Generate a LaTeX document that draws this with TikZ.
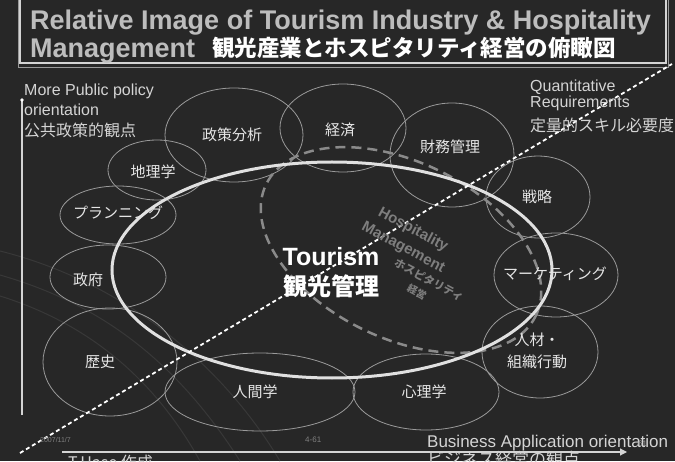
\documentclass[tikz,border=0pt]{standalone}
\usepackage{fontspec}
\setmainfont{Liberation Sans}
\newfontfamily\jp{Noto Sans CJK JP}
\usetikzlibrary{shapes.geometric,arrows.meta}
\definecolor{bgc}{HTML}{272727}
\definecolor{ellc}{HTML}{9A9A9A}
\definecolor{labc}{HTML}{E6E6E6}
\definecolor{titc}{HTML}{BDBDBD}
\definecolor{axc}{HTML}{D4D4D4}
\definecolor{hospc}{HTML}{7E7E7E}
\definecolor{hdash}{HTML}{8A8A8A}
\definecolor{tourc}{HTML}{E0E0E0}
\definecolor{faint}{HTML}{383838}
\begin{document}
\begin{tikzpicture}[x=1pt,y=1pt,
  topic/.style={draw=ellc, line width=0.8pt, ellipse, inner sep=0pt},
  lbl/.style={text=labc, font=\jp\fontsize{15}{18}\selectfont, inner sep=0pt, align=center},
  axlbl/.style={text=axc, font=\fontsize{16}{16}\selectfont, inner sep=0pt, anchor=base west},
  axjp/.style={text=axc, font=\jp\fontsize{16}{16}\selectfont, inner sep=0pt, anchor=west},
  hosptxt/.style={text=hospc, rotate=-28, inner sep=0pt},
  small/.style={text=gray, font=\fontsize{8}{8}\selectfont, inner sep=0pt, anchor=base west}]
\fill[bgc] (0,0) rectangle (675,461);
\useasboundingbox (0,0) rectangle (675,461);
\clip (0,0) rectangle (675,461);
% faint background swooshes
\draw[faint, line width=1pt] (0,186) .. controls (90,160) and (170,110) .. (240,0);
\draw[faint, line width=1pt] (0,165) .. controls (80,140) and (150,90) .. (200,0);
\draw[faint, line width=1pt] (0,210) .. controls (120,180) and (220,100) .. (280,0);
% title box
\draw[ellc, line width=0.8pt] (18,475) rectangle (668,394);
\draw[axc, line width=1.2pt] (20,475) rectangle (666,398);
\node[anchor=base west, text=titc, font=\bfseries\fontsize{27}{27}\selectfont, inner sep=0pt] (t1) at (30,431) {Relative Image of Tourism Industry \& Hospitality};
\node[anchor=base west, text=titc, font=\bfseries\fontsize{27}{27}\selectfont, inner sep=0pt] (t2) at (30,403) {Management};
\node[anchor=base west, text=white, font=\jp\bfseries\fontsize{22.5}{22.5}\selectfont, inner sep=0pt] (t3) at (212,404) {観光産業とホスピタリティ経営の俯瞰図};
% topic ellipses
\node[topic, minimum width=138pt, minimum height=94pt] (e1) at (234,326) {};
\node[topic, minimum width=126pt, minimum height=88pt] (e2) at (343,333) {};
\node[topic, minimum width=124pt, minimum height=104pt] (e3) at (452,306) {};
\node[topic, minimum width=104pt, minimum height=82pt] (e4) at (538,264) {};
\node[topic, minimum width=124pt, minimum height=84pt] (e5) at (556,186) {};
\node[topic, minimum width=116pt, minimum height=92pt] (e6) at (540,109) {};
\node[topic, minimum width=146pt, minimum height=76pt] (e7) at (426,69) {};
\node[topic, minimum width=190pt, minimum height=78pt] (e8) at (260,69) {};
\node[topic, minimum width=134pt, minimum height=108pt] (e9) at (110,99) {};
\node[topic, minimum width=116pt, minimum height=64pt] (e10) at (108,184) {};
\node[topic, minimum width=116pt, minimum height=58pt] (e11) at (118,246) {};
\node[topic, minimum width=98pt, minimum height=60pt] (e12) at (157,291) {};
% hospitality dashed ellipse
\node[draw=hdash, line width=2.5pt, dash pattern=on 10pt off 6pt, ellipse, minimum width=300pt, minimum height=176pt, rotate=-26, inner sep=0pt] (hosp) at (401,211) {};
% tourism ellipse
\node[draw=tourc, line width=3pt, ellipse, minimum width=440pt, minimum height=216pt, inner sep=0pt] (tour) at (332,191) {};
% axes
\coordinate (vtop) at (22,361);
\coordinate (vbot) at (22,46);
\draw[axc, line width=1.3pt] (vbot) -- (vtop);
\fill[white] (vtop) circle (1.8);
\coordinate (hl) at (62,9);
\coordinate (hr) at (627,9);
\draw[axc, line width=1.2pt, -{Triangle[length=7pt,width=7pt]}] (hl) -- (hr);
% diagonal
\coordinate (d1) at (20,8);
\coordinate (d2) at (672,397);
\draw[white, line width=1.8pt, dash pattern=on 4pt off 3pt] (d1) -- (d2);
% labels
\node[lbl] (l1) at (232,326) {政策分析};
\node[lbl] (l2) at (340,331) {経済};
\node[lbl] (l3) at (450,314) {財務管理};
\node[lbl] (l4) at (537,264) {戦略};
\node[lbl] (l5) at (555,187) {マーケティング};
\node[lbl] (l6) at (537,121) {人材・};
\node[lbl] (l6b) at (537,99) {組織行動};
\node[lbl] (l7) at (424,69) {心理学};
\node[lbl] (l8) at (255,69) {人間学};
\node[lbl] (l9) at (100,99) {歴史};
\node[lbl] (l10) at (88,181) {政府};
\node[lbl] (l11) at (118,248) {プランニング};
\node[lbl] (l12) at (153,289) {地理学};
% hospitality text
\node[hosptxt, font=\bfseries\fontsize{15}{15}\selectfont] (h1) at (413,231) {Hospitality};
\node[hosptxt, font=\bfseries\fontsize{15}{15}\selectfont] (h2) at (403,213) {Management};
\node[hosptxt, font=\jp\bfseries\fontsize{11}{11}\selectfont] (h3) at (429,181) {ホスピタリティ};
\node[hosptxt, font=\jp\bfseries\fontsize{10}{10}\selectfont] (h4) at (417,169) {経営};
% tourism text
\node[text=white, font=\bfseries\fontsize{25}{25}\selectfont, inner sep=0pt] (tt) at (331,204) {Tourism};
\node[text=white, font=\jp\bfseries\fontsize{24}{24}\selectfont, inner sep=0pt] (tj) at (331,175) {観光管理};
% axis labels
\node[axlbl] (a1) at (24,365) {More Public policy};
\node[axlbl] (a2) at (24,345) {orientation};
\node[axjp] (a3) at (24,331) {公共政策的観点};
\node[axlbl] (q1) at (530,369) {Quantitative};
\node[axlbl] (q2) at (530,353) {Requirements};
\node[axjp] (q3) at (530,336) {定量的スキル必要度};
\node[axlbl, font=\fontsize{17}{17}\selectfont] (b1) at (427,14) {Business Application orientation};
\node[axjp, font=\jp\fontsize{17}{17}\selectfont, anchor=north west] (b2) at (427,10) {ビジネス経営の観点};
\node[axjp, anchor=north west] (au) at (68,6) {T.Hase 作成};
\node[small, font=\fontsize{7}{7}\selectfont] (dt) at (40,19) {2007/11/7};
\node[small] (pg) at (305,19) {4-61};
\node[small, text=gray!70] (pn) at (638,15) {61};
\end{tikzpicture}
\end{document}
